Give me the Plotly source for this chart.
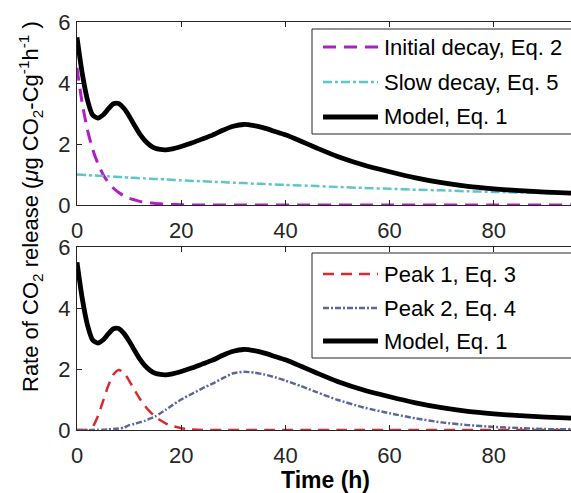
import plotly.graph_objects as go

# ---------------- data ----------------
t = [0, 1, 2, 3, 4, 5, 6, 7, 8, 9, 10, 11, 12, 13, 14, 15, 16, 17, 18, 20, 22, 24, 26, 28,
     30, 32, 34, 36, 38, 40, 43, 46, 50, 55, 60, 65, 70, 75, 80, 85, 90, 95, 100]

initial_decay = [4.50, 3.33, 2.47, 1.83, 1.36, 1.00, 0.74, 0.55, 0.41, 0.30, 0.22, 0.17, 0.12,
                 0.09, 0.07, 0.05, 0.04, 0.03, 0.02, 0.01, 0, 0, 0, 0,
                 0, 0, 0, 0, 0, 0, 0, 0, 0, 0, 0, 0, 0, 0, 0, 0, 0, 0, 0]

slow_decay = [1.00, 0.99, 0.98, 0.97, 0.96, 0.95, 0.94, 0.93, 0.92, 0.91, 0.90, 0.89, 0.88,
              0.87, 0.86, 0.85, 0.85, 0.84, 0.83, 0.81, 0.79, 0.78, 0.76, 0.75,
              0.73, 0.72, 0.70, 0.69, 0.67, 0.66, 0.64, 0.62, 0.59, 0.56, 0.53, 0.50,
              0.48, 0.45, 0.43, 0.41, 0.39, 0.37, 0.35]

peak1 = [0, 0, 0, 0.10, 0.45, 0.95, 1.45, 1.82, 1.97, 1.88, 1.62, 1.32, 1.04, 0.80, 0.60,
         0.44, 0.32, 0.22, 0.15, 0.06, 0.02, 0, 0, 0,
         0, 0, 0, 0, 0, 0, 0, 0, 0, 0, 0, 0, 0, 0, 0, 0, 0, 0, 0]

peak2 = [0, 0, 0, 0, 0.01, 0.01, 0.02, 0.03, 0.05, 0.08, 0.16, 0.20, 0.25, 0.30, 0.37,
         0.44, 0.55, 0.66, 0.78, 1.00, 1.18, 1.36, 1.52, 1.70,
         1.86, 1.91, 1.88, 1.82, 1.73, 1.62, 1.44, 1.24, 0.99, 0.74, 0.55, 0.38,
         0.25, 0.16, 0.10, 0.06, 0.03, 0.02, 0.01]

model = [5.50, 4.32, 3.45, 2.95, 2.85, 2.95, 3.15, 3.32, 3.33, 3.17, 2.92, 2.62, 2.34,
         2.12, 1.96, 1.86, 1.82, 1.81, 1.83, 1.92, 2.03, 2.16, 2.29, 2.45,
         2.58, 2.64, 2.60, 2.52, 2.41, 2.30, 2.09, 1.87, 1.59, 1.31, 1.09, 0.89,
         0.73, 0.61, 0.53, 0.47, 0.42, 0.39, 0.36]

x_ticks = [0, 20, 40, 60, 80]
y_ticks = [0, 2, 4, 6]

# ---------------- styles ----------------
PURPLE = "#B21EC6"
CYAN = "#5EC6C6"
RED = "#DA2A30"
BLUE = "#5A679A"
BLACK = "#000000"
AX = "#262626"
FONT = "Liberation Sans, Arial, sans-serif"

W, H = 571, 493
L, R, T, B = 77, 0, 22, 63
PW, PH = W - L - R, H - T - B


def pxx(px):
    return (px - L) / PW


def pxy(py):
    return (H - B - py) / PH


fig = go.Figure()

styles_top = [
    ("Initial decay, Eq. 2", initial_decay, PURPLE, "13px,8px", 3),
    ("Slow decay, Eq. 5", slow_decay, CYAN, "9px,3px,3px,3px", 2.5),
    ("Model, Eq. 1", model, BLACK, "solid", 4.8),
]
styles_bot = [
    ("Peak 1, Eq. 3", peak1, RED, "11px,7px", 2.5),
    ("Peak 2, Eq. 4", peak2, BLUE, "6px,2px,2px,2px", 2.5),
    ("Model, Eq. 1", model, BLACK, "solid", 4.8),
]

for name, ys, col, dash, w in styles_top:
    fig.add_trace(go.Scatter(x=t, y=ys, mode="lines", name=name, showlegend=False,
                             line=dict(color=col, dash=dash, width=w, shape="spline", smoothing=0.6),
                             xaxis="x", yaxis="y"))
for name, ys, col, dash, w in styles_bot:
    fig.add_trace(go.Scatter(x=t, y=ys, mode="lines", name=name, showlegend=False,
                             line=dict(color=col, dash=dash, width=w, shape="spline", smoothing=0.6),
                             xaxis="x2", yaxis="y2"))

top_dom = [pxy(205), 1.0]
bot_dom = [0.0, pxy(247)]

axis_common = dict(showline=True, linecolor=AX, linewidth=1, ticks="inside", ticklen=5,
                   tickcolor=AX, tickwidth=1, showgrid=False, zeroline=False,
                   tickfont=dict(family=FONT, size=22, color=AX))

xmax = (W - L) / 5.21

fig.update_layout(
    width=W, height=H, margin=dict(l=L, r=R, t=T, b=B),
    paper_bgcolor="white", plot_bgcolor="white", showlegend=False,
    xaxis=dict(range=[0, xmax], domain=[0, 1], anchor="y", tickvals=x_ticks,
               mirror="ticks", ticklabelstandoff=6, **axis_common),
    yaxis=dict(range=[0, 6], domain=top_dom, anchor="x", tickvals=y_ticks, mirror=False,
               ticklabelstandoff=1, **axis_common),
    xaxis2=dict(range=[0, xmax], domain=[0, 1], anchor="y2", tickvals=x_ticks,
                mirror="ticks", ticklabelstandoff=6, **axis_common),
    yaxis2=dict(range=[0, 6], domain=bot_dom, anchor="x2", tickvals=y_ticks, mirror=False,
                ticklabelstandoff=1, **axis_common),
)

shapes = []
annotations = []


def add_legend(box_top, box_bottom, rows, entries):
    shapes.append(dict(type="rect", xref="paper", yref="paper", x0=pxx(312), x1=pxx(600),
                       y0=pxy(box_bottom), y1=pxy(box_top), line=dict(color=AX, width=1),
                       fillcolor="white", layer="above"))
    for ry, (name, _, col, dash, w) in zip(rows, entries):
        shapes.append(dict(type="line", xref="paper", yref="paper", x0=pxx(323), x1=pxx(378),
                           y0=pxy(ry), y1=pxy(ry), line=dict(color=col, dash=dash, width=w),
                           layer="above"))
        annotations.append(dict(xref="paper", yref="paper", x=pxx(382), y=pxy(ry),
                                xanchor="left", yanchor="middle", showarrow=False, text=name,
                                font=dict(family=FONT, size=22, color="#000000")))


add_legend(29, 134, [47, 82, 117], styles_top)
add_legend(253, 358, [274, 308, 341], styles_bot)

annotations.append(dict(xref="paper", yref="paper", x=pxx(325), y=pxy(480), xanchor="center",
                        yanchor="middle", showarrow=False, text="<b>Time (h)</b>",
                        font=dict(family=FONT, size=23, color="#000000")))
annotations.append(dict(xref="paper", yref="paper", x=pxx(30), y=pxy(207), xanchor="center",
                        yanchor="middle", showarrow=False, textangle=-90,
                        text="Rate of CO<sub>2</sub> release (<i>μ</i>g CO<sub>2</sub>-Cg<sup>-1</sup>h<sup>-1</sup> )",
                        font=dict(family=FONT, size=22, color="#000000")))

fig.update_layout(shapes=shapes, annotations=annotations)

fig.write_html("out.html", config={"displayModeBar": False},
               post_script="document.body.style.margin='0';document.body.style.overflow='hidden';")
